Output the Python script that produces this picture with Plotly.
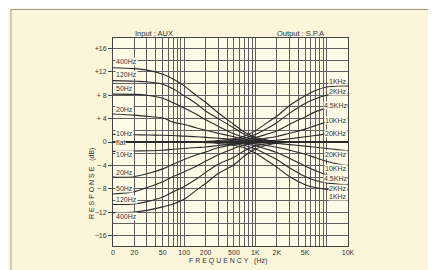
import math
import plotly.graph_objects as go

# ---------------- data ----------------
freq = [10, 20, 30, 50, 70, 100, 150, 200, 300, 500, 700, 1000,
        1500, 2000, 3000, 5000, 7000, 10000, 15000, 20000]

bass_boost = {
    "400Hz": [12.7, 12.55, 12.3, 11.6, 10.8, 9.6, 7.9, 6.8, 5.0, 3.0, 1.7, 0.8, 0.3, 0.1, 0, 0, 0, 0, 0, 0],
    "120Hz": [10.5, 10.4, 10.3, 9.9, 9.1, 7.9, 6.5, 5.3, 4.0, 2.4, 1.3, 0.6, 0.2, 0.05, 0, 0, 0, 0, 0, 0],
    "50Hz":  [8.2, 8.15, 8.0, 7.5, 6.7, 5.8, 4.7, 3.8, 2.7, 1.4, 0.8, 0.4, 0.15, 0.05, 0, 0, 0, 0, 0, 0],
    "20Hz":  [4.8, 4.6, 4.4, 4.1, 3.4, 3.0, 2.4, 2.0, 1.5, 0.9, 0.5, 0.25, 0.1, 0, 0, 0, 0, 0, 0, 0],
    "10Hz":  [1.3, 1.25, 1.2, 1.15, 1.1, 1.0, 0.9, 0.8, 0.65, 0.45, 0.3, 0.15, 0.05, 0, 0, 0, 0, 0, 0, 0],
}
flat = [0.0] * 20
bass_cut = {
    "10Hz":  [-1.6, -1.55, -1.5, -1.4, -1.25, -1.1, -0.95, -0.85, -0.6, -0.3, -0.15, -0.05, 0, 0, 0, 0, 0, 0, 0, 0],
    "20Hz":  [-6.0, -5.9, -5.45, -4.6, -3.8, -3.0, -2.2, -1.7, -1.0, -0.4, -0.15, -0.05, 0, 0, 0, 0, 0, 0, 0, 0],
    "50Hz":  [-8.9, -8.5, -7.8, -6.8, -5.9, -5.1, -4.1, -3.3, -2.2, -1.1, -0.5, -0.2, -0.05, 0, 0, 0, 0, 0, 0, 0],
    "120Hz": [-10.7, -10.6, -10.2, -9.4, -8.5, -7.6, -6.3, -5.2, -3.8, -2.6, -1.5, -0.7, -0.25, -0.1, 0, 0, 0, 0, 0, 0],
    "400Hz": [-12.1, -12.0, -11.7, -11.1, -10.6, -9.8, -8.2, -7.1, -5.4, -3.9, -2.4, -1.2, -0.5, -0.2, -0.05, 0, 0, 0, 0, 0],
}
treble_boost = {
    "1KHz":   [0, 0, 0, 0, 0, 0, 0.02, 0.1, 0.25, 0.55, 1.0, 1.9, 3.4, 4.4, 6.2, 7.9, 8.8, 9.4, 9.6, 9.6],
    "2KHz":   [0, 0, 0, 0, 0, 0, 0, 0, 0.1, 0.3, 0.65, 1.3, 2.4, 3.3, 4.9, 6.6, 7.4, 8.0, 8.25, 8.3],
    "4.5KHz": [0, 0, 0, 0, 0, 0, 0, 0, 0, 0.15, 0.35, 0.75, 1.4, 1.9, 3.0, 4.3, 5.2, 5.8, 6.2, 6.4],
    "10KHz":  [0, 0, 0, 0, 0, 0, 0, 0, 0, 0, 0.2, 0.35, 0.7, 0.95, 1.5, 2.2, 2.8, 3.4, 3.9, 4.1],
    "20KHz":  [0, 0, 0, 0, 0, 0, 0, 0, 0, 0, 0, 0.1, 0.2, 0.3, 0.55, 0.9, 1.1, 1.4, 1.7, 1.9],
}
treble_cut = {
    "20KHz":  [0, 0, 0, 0, 0, 0, 0, 0, 0, 0, 0, -0.1, -0.15, -0.25, -0.45, -0.7, -0.9, -1.1, -1.35, -1.5],
    "10KHz":  [0, 0, 0, 0, 0, 0, 0, 0, 0, 0, -0.2, -0.35, -0.65, -0.9, -1.4, -2.1, -2.7, -3.3, -3.8, -4.0],
    "4.5KHz": [0, 0, 0, 0, 0, 0, 0, 0, 0, -0.15, -0.3, -0.65, -1.3, -1.8, -2.8, -4.1, -4.9, -5.6, -6.0, -6.2],
    "2KHz":   [0, 0, 0, 0, 0, 0, 0, 0, -0.1, -0.3, -0.6, -1.2, -2.2, -3.0, -4.4, -5.9, -6.6, -7.0, -7.25, -7.3],
    "1KHz":   [0, 0, 0, 0, 0, 0, 0, -0.1, -0.25, -0.55, -1.0, -1.9, -3.3, -4.3, -5.9, -7.3, -7.8, -8.1, -8.2, -8.2],
}

# label y positions (dB) for the curve names
left_labels = [("400Hz", 13.7), ("120Hz", 11.5), ("50Hz", 9.1), ("20Hz", 5.5),
               ("10Hz", 1.4), ("flat", 0.0), ("10Hz", -2.2), ("20Hz", -5.3),
               ("50Hz", -7.9), ("120Hz", -9.8), ("400Hz", -12.7)]
right_labels = [("1KHz", 10.3), ("2KHz", 8.7), ("4.5KHz", 6.3), ("10KHz", 3.6),
                ("20KHz", 1.5), ("20KHz", -2.2), ("10KHz", -4.45),
                ("4.5KHz", -6.3), ("2KHz", -7.9), ("1KHz", -9.4)]

x_tickvals = [10, 20, 50, 100, 200, 500, 1000, 2000, 5000, 20000]
x_ticktext = ["0", "20", "50", "100", "200", "500", "1K", "2K", "5K", "10K"]
y_tickvals = [16, 12, 8, 4, 0, -4, -8, -12, -16]
y_ticktext = ["+16", "+12", "+ 8", "+ 4", "0", "\u2212 4", "\u2212 8", "\u221212", "\u221216"]

# ---------------- figure ----------------
W, H = 436, 270
L, R, T, B = 105, 96, 30, 32
PW, PH = W - L - R, H - T - B
FONT = "Liberation Sans, Arial, sans-serif"
INK = "#2a2a2a"

fig = go.Figure()

def add_curve(vals):
    fig.add_trace(go.Scatter(x=freq, y=vals, mode="lines",
                             line=dict(color=INK, width=1.1, shape="spline", smoothing=1.0),
                             hoverinfo="skip", showlegend=False))

for v in bass_boost.values():
    add_curve(v)
add_curve(flat)
for v in bass_cut.values():
    add_curve(v)
for v in treble_boost.values():
    add_curve(v)
for v in treble_cut.values():
    add_curve(v)

minor_x = []
for d in (10, 100, 1000, 10000):
    for k in range(1, 10):
        f = d * k
        if f <= 20000 and f not in x_tickvals:
            minor_x.append(f)
minor_x.append(10000)

grid_col = "#606060"
fig.update_xaxes(type="log", range=[1, math.log10(20000)],
                 tickmode="array", tickvals=x_tickvals, ticktext=x_ticktext,
                 showgrid=True, gridcolor=grid_col, gridwidth=0.7,
                 minor=dict(tickmode="array", tickvals=minor_x, showgrid=True,
                            gridcolor=grid_col, gridwidth=0.7, ticks=""),
                 showline=True, linecolor="#444", linewidth=1, mirror=True,
                 ticks="", tickfont=dict(family=FONT, size=7, color="#333"),
                 zeroline=False)
fig.update_yaxes(range=[-17.8, 17.8], tickmode="array",
                 tickvals=y_tickvals, ticktext=y_ticktext,
                 showgrid=True, gridcolor=grid_col, gridwidth=0.7,
                 minor=dict(dtick=2, tick0=0, showgrid=True, gridcolor=grid_col,
                            gridwidth=0.7, ticks=""),
                 showline=True, linecolor="#444", linewidth=1, mirror=True,
                 ticks="outside", ticklen=4, tickcolor="#444", tickwidth=0.8,
                 tickfont=dict(family=FONT, size=7, color="#333"),
                 zeroline=False)

PLOT_BG = "#fffbe8"
ann = []
for name, y in left_labels:
    ann.append(dict(x=math.log10(10.6), y=y, xref="x", yref="y", text=name,
                    showarrow=False, xanchor="left", yanchor="middle",
                    font=dict(family=FONT, size=7, color="#333"),
                    bgcolor=PLOT_BG, borderpad=0))
for name, y in right_labels:
    ann.append(dict(x=math.log10(19700), y=y, xref="x", yref="y", text=name,
                    showarrow=False, xanchor="right", yanchor="middle",
                    font=dict(family=FONT, size=7, color="#333"),
                    bgcolor=PLOT_BG, borderpad=0))

def px_x(px):
    return (px - L) / PW

def px_y(py):
    return (H - B - py) / PH

ann.append(dict(x=px_x(146), y=px_y(25), xref="paper", yref="paper",
                text="Input ; AUX", showarrow=False, xanchor="center", yanchor="middle",
                font=dict(family=FONT, size=7.5, color="#333")))
ann.append(dict(x=px_x(292), y=px_y(25), xref="paper", yref="paper",
                text="Output : S.P.A", showarrow=False, xanchor="center", yanchor="middle",
                font=dict(family=FONT, size=7.5, color="#333")))
ann.append(dict(x=px_x(220), y=px_y(253), xref="paper", yref="paper",
                text="F R E Q U E N C Y   (Hz)", showarrow=False, xanchor="center",
                yanchor="middle", font=dict(family=FONT, size=7, color="#333")))
ann.append(dict(x=px_x(84), y=px_y(176), xref="paper", yref="paper",
                text="R E S P O N S E   (dB)", showarrow=False, textangle=-90,
                xanchor="center", yanchor="middle",
                font=dict(family=FONT, size=7, color="#333")))

shapes = [
    dict(type="rect", xref="paper", yref="paper", x0=px_x(430), x1=px_x(437),
         y0=px_y(-2), y1=px_y(272), fillcolor="#f7f6f0", line=dict(width=0), layer="below"),
    dict(type="rect", xref="paper", yref="paper", x0=px_x(3), x1=px_x(429.5),
         y0=px_y(267.5), y1=px_y(1.5), line=dict(color="#9a9a92", width=1),
         fillcolor="rgba(0,0,0,0)", layer="below"),
]

fig.update_layout(width=W, height=H, margin=dict(l=L, r=R, t=T, b=B, pad=0),
                  paper_bgcolor="#fbf6da", plot_bgcolor=PLOT_BG,
                  annotations=ann, shapes=shapes, showlegend=False)

fig.write_html("out.html")
